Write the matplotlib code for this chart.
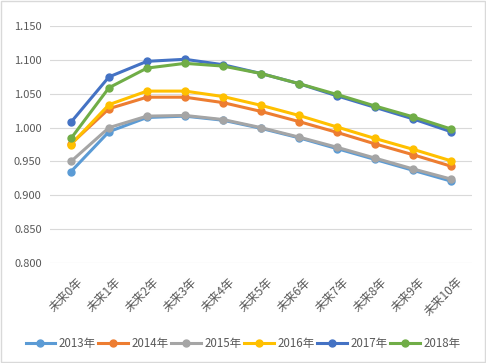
import matplotlib
matplotlib.use('Agg')
from matplotlib import pyplot as plt
from matplotlib import transforms
from matplotlib.patches import Rectangle

plt.rcParams['font.family'] = ['Noto Sans CJK SC', 'DejaVu Sans']
plt.rcParams['axes.unicode_minus'] = False

categories = ['未来0年', '未来1年', '未来2年', '未来3年', '未来4年', '未来5年',
              '未来6年', '未来7年', '未来8年', '未来9年', '未来10年']
series_names = ['2013年', '2014年', '2015年', '2016年', '2017年', '2018年']
y2013 = [0.935, 0.994, 1.015, 1.017, 1.011, 0.999, 0.985, 0.969, 0.953, 0.937, 0.921]
y2014 = [0.976, 1.028, 1.045, 1.045, 1.037, 1.024, 1.009, 0.993, 0.976, 0.960, 0.943]
y2015 = [0.950, 1.000, 1.017, 1.018, 1.012, 1.000, 0.986, 0.971, 0.955, 0.939, 0.924]
y2016 = [0.975, 1.034, 1.054, 1.054, 1.046, 1.033, 1.018, 1.001, 0.984, 0.968, 0.951]
y2017 = [1.008, 1.075, 1.098, 1.101, 1.093, 1.080, 1.065, 1.047, 1.030, 1.013, 0.994]
y2018 = [0.984, 1.059, 1.088, 1.095, 1.091, 1.080, 1.065, 1.049, 1.032, 1.016, 0.998]
colors = ['#5B9BD5', '#ED7D31', '#A5A5A5', '#FFC000', '#4472C4', '#70AD47']

fig = plt.figure(figsize=(4.86, 3.63), dpi=100)
ax = fig.add_axes([0.103, 0.2755, 0.868, 0.6525])

x = list(range(len(categories)))
for name, ys, c in zip(series_names, [y2013, y2014, y2015, y2016, y2017, y2018], colors):
    ax.plot(x, ys, color=c, linewidth=2.2, marker='o', markersize=5, label=name)

ax.set_ylim(0.8, 1.15)
ax.set_xlim(-0.55, 10.55)
ax.set_yticks([0.8, 0.85, 0.9, 0.95, 1.0, 1.05, 1.1, 1.15])
ax.set_yticklabels([f'{v:.3f}' for v in ax.get_yticks()])
ax.set_xticks(x)
ax.set_xticklabels(categories, rotation=45, ha='right', rotation_mode='anchor')
ax.tick_params(axis='both', length=0, labelsize=8, colors='#595959')
ax.tick_params(axis='x', labelsize=8.5, pad=6)
ax.tick_params(axis='y', pad=6)
# 把x轴标签往右下挪一点
offset = transforms.ScaledTranslation(0.05, -0.04, fig.dpi_scale_trans)
for lab in ax.get_xticklabels():
    lab.set_transform(lab.get_transform() + offset)
ax.grid(axis='y', color='#D9D9D9', linewidth=0.8)
ax.set_axisbelow(True)
for s in ax.spines.values():
    s.set_visible(False)

leg = fig.legend(loc='center', bbox_to_anchor=(0.5, 0.055), ncol=6, frameon=False,
                 fontsize=8.3, handlelength=2.6, columnspacing=0.2, handletextpad=0.3)
for t in leg.get_texts():
    t.set_color('#595959')

fig.patches.append(Rectangle((0.002, 0.003), 0.995, 0.993, transform=fig.transFigure,
                             fill=False, edgecolor='#D9D9D9', linewidth=1))

fig.savefig('out.png', dpi=100)
